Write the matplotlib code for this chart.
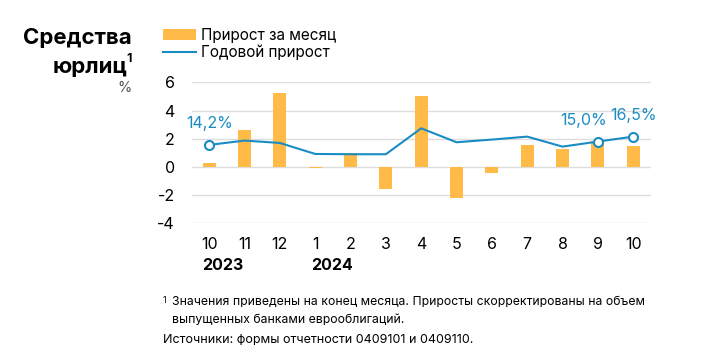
import matplotlib
matplotlib.use('Agg')
import matplotlib.pyplot as plt
import numpy as np

plt.rcParams['font.family'] = ['Inter', 'DejaVu Sans']
plt.rcParams['axes.unicode_minus'] = False

months = ['10', '11', '12', '1', '2', '3', '4', '5', '6', '7', '8', '9', '10']
monthly = [0.25, 2.62, 5.25, -0.05, 1.0, -1.6, 5.05, -2.22, -0.45, 1.58, 1.28, 1.87, 1.51]
annual = [1.56, 1.87, 1.70, 0.92, 0.90, 0.90, 2.74, 1.75, 1.94, 2.15, 1.44, 1.80, 2.15]
marked = {0: '14,2%', 11: '15,0%', 12: '16,5%'}
years = [(0, '2023'), (3, '2024')]

orange = '#FFBA47'
blue = '#1A8CC4'

fig = plt.figure(figsize=(7.2, 3.63), dpi=100)
ax = fig.add_axes([0.266, 0.385, 0.638, 0.388])

x = np.arange(len(months))
bars = ax.bar(x, monthly, width=0.37, color=orange, zorder=2)
line, = ax.plot(x, annual, color=blue, lw=1.5, zorder=3)
for i, txt in marked.items():
    ax.plot(x[i], annual[i], 'o', ms=6.5, mfc='white', mec=blue, mew=1.5, zorder=4)
    dx = -10 if i == 11 else 0
    ax.annotate(txt, (x[i], annual[i]), xytext=(dx, 10), textcoords='offset points',
                ha='center', va='bottom', color=blue, fontsize=11.5, annotation_clip=False)

ax.set_xlim(-0.5, 12.5)
ax.set_ylim(-4, 6)
ax.set_yticks([-4, -2, 0, 2, 4, 6])
ax.grid(axis='y', color='#DDDDDD', lw=1, zorder=0)
for s in ax.spines.values():
    s.set_visible(False)
ax.tick_params(length=0, labelsize=11.5, colors='black')
ax.tick_params(axis='y', pad=12)
ax.tick_params(axis='x', pad=10)
ax.set_xticks(x)
ax.set_xticklabels(months)

for i, y in years:
    off = -0.21 if i == 0 else -0.11
    ax.text(i + off, -6.45, y, ha='left', va='top', fontsize=11.5, fontweight='bold')

fig.legend([bars, line], ['Прирост за месяц', 'Годовой прирост'],
           loc='upper left', bbox_to_anchor=(0.226, 0.924), frameon=False, fontsize=11,
           handlelength=2.2, handletextpad=0.3, labelspacing=0.15, borderaxespad=0,
           borderpad=0)

fig.text(0.183, 0.895, 'Средства', ha='right', va='center', fontsize=16, fontweight='bold')
fig.text(0.177, 0.815, 'юрлиц', ha='right', va='center', fontsize=16, fontweight='bold')
fig.text(0.183, 0.838, '1', ha='right', va='center', fontsize=9, fontweight='bold')
fig.text(0.183, 0.757, '%', ha='right', va='center', fontsize=10.5, color='#555555')

fig.text(0.226, 0.172, '1', fontsize=6.5, va='center')
fig.text(0.239, 0.168, 'Значения приведены на конец месяца. Приросты скорректированы на объем',
         fontsize=8.8, va='center')
fig.text(0.239, 0.118, 'выпущенных банками еврооблигаций.', fontsize=8.8, va='center')
fig.text(0.226, 0.063, 'Источники: формы отчетности 0409101 и 0409110.', fontsize=9, va='center')

fig.savefig('out.png', dpi=100)
